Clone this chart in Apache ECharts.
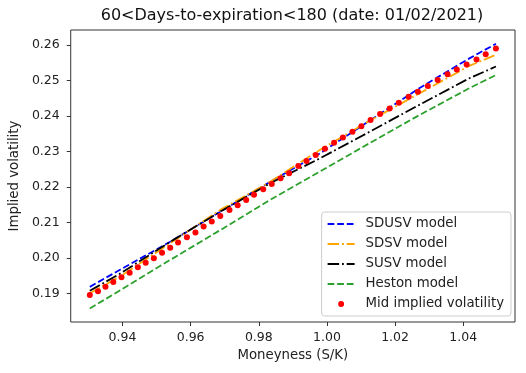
<!DOCTYPE html>
<html>
<head>
<meta charset="utf-8">
<script src="https://cdn.jsdelivr.net/npm/echarts@6/dist/echarts.min.js"></script>
<style>
  html, body { margin: 0; padding: 0; background: #fff; }
  #chart { width: 526px; height: 373px; }
</style>
</head>
<body>
<div id="chart"></div>
<script>
// moneyness of the observed quotes and their mid implied volatility
const moneyness = [0.9304, 0.9328, 0.9350, 0.9373, 0.9397, 0.9421, 0.9445, 0.9468, 0.9492, 0.9516,
  0.9540, 0.9563, 0.9589, 0.9614, 0.9638, 0.9662, 0.9687, 0.9714, 0.9738, 0.9763,
  0.9786, 0.9813, 0.9838, 0.9864, 0.9889, 0.9916, 0.9940, 0.9967, 0.9994, 1.0021,
  1.0047, 1.0075, 1.0101, 1.0128, 1.0156, 1.0184, 1.0211, 1.0240, 1.0267, 1.0296,
  1.0325, 1.0354, 1.0381, 1.0410, 1.0439, 1.0466, 1.0496];
const midIV = [0.1895, 0.1906, 0.1918, 0.1932, 0.1945, 0.1958, 0.1973, 0.1986, 0.1999, 0.2014,
  0.2028, 0.2043, 0.2058, 0.2071, 0.2088, 0.2102, 0.2118, 0.2135, 0.2148, 0.2163,
  0.2178, 0.2193, 0.2208, 0.2224, 0.2238, 0.2259, 0.2273, 0.2290, 0.2307, 0.2324,
  0.2339, 0.2355, 0.2371, 0.2388, 0.2405, 0.2421, 0.2437, 0.2454, 0.2468, 0.2484,
  0.2501, 0.2517, 0.2531, 0.2545, 0.2559, 0.2574, 0.2590];

// model curves
const modelX = [0.9304, 0.9394, 0.9540, 0.9687, 0.9833, 0.9979, 1.0125, 1.0271, 1.0418, 1.0496];
const sdusv  = [0.1918, 0.1967, 0.2045, 0.2130, 0.2214, 0.2294, 0.2386, 0.2478, 0.2562, 0.2603];
const sdsv   = [0.1900, 0.1948, 0.2041, 0.2135, 0.2214, 0.2304, 0.2386, 0.2463, 0.2541, 0.2572];
const susv   = [0.1907, 0.1956, 0.2045, 0.2130, 0.2210, 0.2280, 0.2355, 0.2431, 0.2506, 0.2539];
const heston = [0.1857, 0.1909, 0.1994, 0.2078, 0.2163, 0.2243, 0.2323, 0.2402, 0.2478, 0.2515];

const xTicks = [0.94, 0.96, 0.98, 1.00, 1.02, 1.04];
const yTicks = [0.19, 0.20, 0.21, 0.22, 0.23, 0.24, 0.25, 0.26];

const pairs = (xs, ys) => xs.map((x, i) => [x, ys[i]]);

const lw = 1.8;
function modelSeries(name, ys, color, dash) {
  return {
    name: name,
    type: 'line',
    data: pairs(modelX, ys),
    symbol: 'none',
    lineStyle: {color: color, width: lw, type: dash},
    itemStyle: {color: color},
    animation: false
  };
}

// legend entries for the curves: line only, no marker
const lineItem = name => ({name: name, itemStyle: {color: 'rgba(0,0,0,0)', borderWidth: 0, opacity: 0}});

const chart = echarts.init(document.getElementById('chart'));
chart.setOption({
  animation: false,
  textStyle: {fontFamily: 'DejaVu Sans'},
  title: {
    text: '60<Days-to-expiration<180 (date: 01/02/2021)',
    left: 292,
    top: 8,
    padding: 0,
    textAlign: 'center',
    textStyle: {fontSize: 16, fontWeight: 'normal', color: '#111', fontFamily: 'DejaVu Sans'}
  },
  grid: {
    left: 69, right: 11, top: 30, bottom: 51,
    show: true, borderColor: '#333', borderWidth: 1, backgroundColor: 'transparent'
  },
  legend: {
    orient: 'vertical',
    right: 15,
    top: 212,
    itemWidth: 27,
    itemHeight: 12,
    itemGap: 6,
    padding: [5, 7, 5, 5],
    backgroundColor: 'rgba(255,255,255,0.85)',
    borderColor: '#ccc',
    borderWidth: 1,
    borderRadius: 3,
    formatter: name => '{g|}' + name,
    textStyle: {fontSize: 13.3, lineHeight: 14, color: '#222', fontFamily: 'DejaVu Sans',
      rich: {g: {width: 6}}},
    data: [
      lineItem('SDUSV model'), lineItem('SDSV model'), lineItem('SUSV model'), lineItem('Heston model'),
      {name: 'Mid implied volatility', icon: 'path://M0,0 M12,12 M6,3 A3,3 0 1 1 6,9 A3,3 0 1 1 6,3 Z',
        itemStyle: {color: '#ff0000', opacity: 1}}
    ]
  },
  xAxis: {
    type: 'value',
    min: 0.9248,
    max: 1.0552,
    name: 'Moneyness (S/K)',
    nameLocation: 'middle',
    nameGap: 27,
    nameTextStyle: {fontSize: 13.3, color: '#222'},
    axisLine: {show: false},
    axisTick: {show: true, length: 4, lineStyle: {color: '#333'}, customValues: xTicks},
    axisLabel: {fontSize: 12.5, color: '#222', margin: 9, customValues: xTicks,
      formatter: v => v.toFixed(2)},
    splitLine: {show: false}
  },
  yAxis: {
    type: 'value',
    min: 0.1819,
    max: 0.2642,
    name: 'Implied volatility',
    nameLocation: 'middle',
    nameGap: 47,
    nameTextStyle: {fontSize: 13.3, color: '#222'},
    axisLine: {show: false},
    axisTick: {show: true, length: 4, lineStyle: {color: '#333'}, customValues: yTicks},
    axisLabel: {fontSize: 12.5, color: '#222', margin: 11, customValues: yTicks,
      formatter: v => v.toFixed(2)},
    splitLine: {show: false}
  },
  series: [
    modelSeries('SDUSV model', sdusv, '#0000ff', [6.7, 2.9]),
    modelSeries('SDSV model', sdsv, '#ffa500', [11.5, 2.9, 1.8, 2.9]),
    modelSeries('SUSV model', susv, '#000000', [11.5, 2.9, 1.8, 2.9]),
    modelSeries('Heston model', heston, '#2ca02c', [6.7, 2.9]),
    {
      name: 'Mid implied volatility',
      type: 'scatter',
      data: pairs(moneyness, midIV),
      symbol: 'circle',
      symbolSize: 6,
      itemStyle: {color: '#ff0000', opacity: 1},
      z: 5
    }
  ]
});
</script>
</body>
</html>
